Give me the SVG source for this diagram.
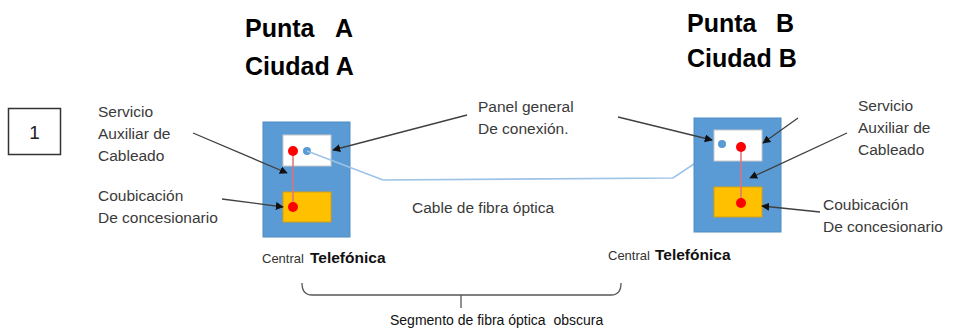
<svg xmlns="http://www.w3.org/2000/svg" width="954" height="335" viewBox="0 0 954 335">
<style>
text{font-family:"Liberation Sans",Arial,sans-serif;white-space:pre}
.t{font-size:25px;font-weight:bold;fill:#000}
.l{font-size:15.5px;fill:#3a3a3a}
.c{font-size:13px;fill:#333}
.tel{font-size:15.5px;font-weight:bold;fill:#111}
.site{fill:#5b9bd5;stroke:#4f8cc4;stroke-width:1}
.panel{fill:#fff;stroke:#c8c8c8;stroke-width:1}
.cou{fill:#ffc000;stroke:#d4a010;stroke-width:1}
.red{fill:#ff0000}
.bl{fill:#5b9bd5}
.rl{stroke:#e0707c;stroke-width:1.5}
.ar{stroke:#404040;stroke-width:1.3;fill:none;marker-end:url(#ah)}
.ln{stroke:#555;stroke-width:1.3;fill:none}
</style>
<defs>
<marker id="ah" viewBox="0 0 10 10" refX="9" refY="5" markerWidth="8" markerHeight="8" markerUnits="userSpaceOnUse" orient="auto">
<path d="M0,0 L10,5 L0,10 z" fill="#111"/>
</marker>
</defs>
<rect width="954" height="335" fill="#fff"/>
<g id="box1">
<rect x="8.5" y="108.5" width="52" height="46" fill="#fff" stroke="#333" stroke-width="1.5"/>
<text x="34.5" y="139" text-anchor="middle" style="font-size:19px;fill:#222">1</text>
</g>
<g id="titleA">
<text class="t" x="245" y="37">Punta<tspan x="335">A</tspan></text>
<text class="t" x="245" y="75">Ciudad A</text>
</g>
<g id="titleB">
<text class="t" x="687" y="32">Punta<tspan x="776">B</tspan></text>
<text class="t" x="687" y="67">Ciudad B</text>
</g>
<g id="cable-back">
<polyline points="383,180 673,178 700,160" fill="none" stroke="#9dc3e6" stroke-width="1.6"/>
</g>
<g id="siteA">
<rect class="site" x="263" y="122" width="87" height="115"/>
<rect class="panel" x="283" y="135" width="48" height="31"/>
<rect class="cou" x="283" y="192" width="48" height="30"/>
<line class="rl" x1="293" y1="151" x2="293" y2="207"/>
<circle class="red" cx="293" cy="151" r="5"/>
<circle class="bl" cx="307" cy="151" r="4"/>
<circle class="red" cx="293" cy="207" r="5"/>
</g>
<g id="siteB">
<rect class="site" x="694" y="118" width="87" height="114"/>
<rect class="panel" x="714" y="130" width="48" height="31"/>
<rect class="cou" x="714" y="187" width="48" height="30"/>
<line class="rl" x1="741" y1="147" x2="741" y2="203"/>
<circle class="bl" cx="722" cy="144" r="4"/>
<circle class="red" cx="741" cy="147" r="5"/>
<circle class="red" cx="741" cy="203" r="5"/>
</g>
<g id="connectors">
<polyline points="307,151 383,180" fill="none" stroke="#9dc3e6" stroke-width="1.4"/>
<line class="ar" x1="193" y1="133" x2="287" y2="173"/>
<line class="ar" x1="222" y1="199" x2="283" y2="207"/>
<line class="ar" x1="467" y1="115" x2="333" y2="150"/>
<line class="ar" x1="618" y1="117" x2="712" y2="140"/>
<line class="ar" x1="798" y1="118" x2="763" y2="143"/>
<line class="ar" x1="847" y1="133" x2="750" y2="178"/>
<line class="ar" x1="820" y1="212" x2="762" y2="206"/>
<path class="ln" d="M302,283 Q302,295 312,295 L611,295 Q621,295 621,283"/>
<line class="ln" x1="461" y1="295" x2="461" y2="308"/>
</g>
<g id="labelsA">
<text class="l" x="98" y="117">Servicio</text>
<text class="l" x="98" y="139">Auxiliar de</text>
<text class="l" x="98" y="161">Cableado</text>
<text class="l" x="98" y="201">Coubicación</text>
<text class="l" x="98" y="223">De concesionario</text>
<text class="c" x="262" y="263">Central</text>
<text class="tel" x="310" y="263">Telefónica</text>
</g>
<g id="labelsMid">
<text class="l" x="478" y="112">Panel general</text>
<text class="l" x="478" y="134">De conexión.</text>
<text class="l" x="412" y="213">Cable de fibra óptica</text>
<text x="390" y="325" style="font-size:14px;fill:#111">Segmento de fibra óptica  obscura</text>
</g>
<g id="labelsB">
<text class="l" x="858" y="111">Servicio</text>
<text class="l" x="858" y="133">Auxiliar de</text>
<text class="l" x="858" y="155">Cableado</text>
<text class="l" x="823" y="210">Coubicación</text>
<text class="l" x="823" y="232">De concesionario</text>
<text class="c" x="608" y="260">Central</text>
<text class="tel" x="655" y="260">Telefónica</text>
</g>
</svg>
